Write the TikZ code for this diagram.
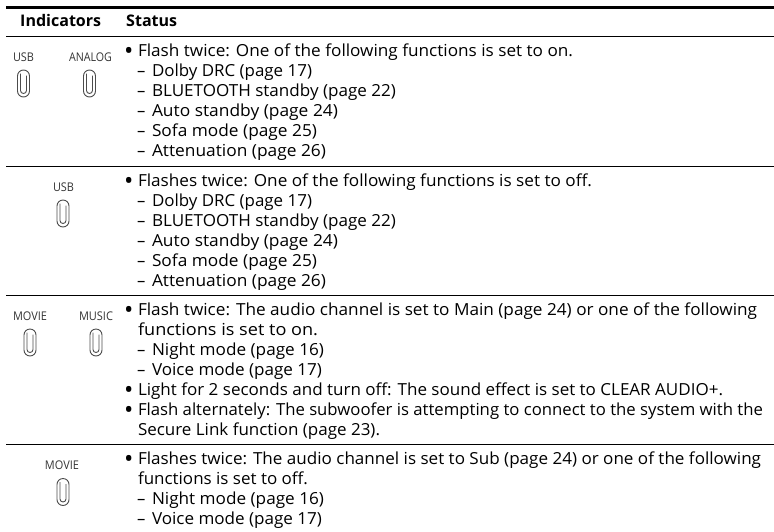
\documentclass[tikz,border=0pt]{standalone}
\usepackage{fontspec}
\setmainfont{Open Sans}
\newsavebox\fitbox
\newcommand\fitw[2]{\sbox\fitbox{#2}\pgfmathsetmacro\fitr{#1/\the\wd\fitbox}\scalebox{\fitr}[1]{\usebox\fitbox}}
\tikzset{
  x=1pt,y=-1pt,
  body/.style={anchor=base west,inner sep=0pt,outer sep=0pt,font=\fontsize{16.6}{20}\selectfont,text=black},
  head/.style={anchor=base west,inner sep=0pt,font=\fontsize{16}{20}\selectfont\bfseries},
  ind/.style={anchor=base,inner sep=0pt,font=\fontsize{12}{14}\selectfont,text=black!80},
  rulerow/.style={line width=0.9pt},
  pics/clip/.style={code={
    \draw[black!70,line width=0.9pt] (-6,-7.5) arc[start angle=180,end angle=360,radius=6] -- (6,7.5) arc[start angle=0,end angle=180,radius=6] -- cycle;
    \draw[black!70,line width=0.9pt] (-3,-10) -- (-3,7) arc[start angle=180,end angle=0,radius=3] -- (3,-8);
  }}
}
\newcommand\blt[4]{\node[body] (#1) at (124,#2) {\makebox[14pt][l]{\smash{\raisebox{-3.4pt}{\scalebox{1.5}{•}}}}\fitw{\numexpr#3-138\relax}{#4}};}
\newcommand\dsh[4]{\node[body] (#1) at (137,#2) {\makebox[15pt][l]{–}\fitw{\numexpr#3-152\relax}{#4}};}
\newcommand\cnt[4]{\node[body] (#1) at (138,#2) {\fitw{\numexpr#3-138\relax}{#4}};}
\begin{document}
\begin{tikzpicture}
\useasboundingbox (0,0) rectangle (774,531);
\draw[line width=2.7pt] (6,7.5) -- (774,7.5);
\draw[rulerow] (6,36) -- (774,36);
\draw[rulerow] (6,166) -- (774,166);
\draw[rulerow] (6,295) -- (774,295);
\draw[rulerow] (6,444) -- (774,444);
\node[head] (hi) at (20,26.5) {\fitw{81}{Indicators}};
\node[head] (hs) at (126,26.5) {\fitw{51}{Status}};
\node[ind] (i1) at (23.5,61.5) {\fitw{21}{USB}};
\node[ind] (i2) at (90.5,61.5) {\fitw{43}{ANALOG}};
\node[ind] (i3) at (63.5,191.5) {\fitw{21}{USB}};
\node[ind] (i4) at (30,320.5) {\fitw{34}{MOVIE}};
\node[ind] (i5) at (96,320.5) {\fitw{34}{MUSIC}};
\node[ind] (i6) at (62,469.5) {\fitw{34}{MOVIE}};
\pic at (23.5,83.5) {clip};
\pic at (89.5,83.5) {clip};
\pic at (63,213.5) {clip};
\pic at (30,342.5) {clip};
\pic at (96,342.5) {clip};
\pic at (63,492) {clip};
\blt{a0}{56}{573}{Flash twice: One of the following functions is set to on.}
\dsh{a1}{76}{312}{Dolby DRC (page 17)}
\dsh{a2}{96}{396}{BLUETOOTH standby (page 22)}
\dsh{a3}{116}{338}{Auto standby (page 24)}
\dsh{a4}{136}{317}{Sofa mode (page 25)}
\dsh{a5}{156}{326}{Attenuation (page 26)}
\blt{b0}{186}{592}{Flashes twice: One of the following functions is set to off.}
\dsh{b1}{206}{312}{Dolby DRC (page 17)}
\dsh{b2}{226}{396}{BLUETOOTH standby (page 22)}
\dsh{b3}{246}{338}{Auto standby (page 24)}
\dsh{b4}{266}{317}{Sofa mode (page 25)}
\dsh{b5}{286}{326}{Attenuation (page 26)}
\blt{c0}{315}{757}{Flash twice: The audio channel is set to Main (page 24) or one of the following}
\cnt{c1}{335}{318}{functions is set to on.}
\dsh{c2}{355}{324}{Night mode (page 16)}
\dsh{c3}{375}{322}{Voice mode (page 17)}
\blt{c4}{395}{723}{Light for 2 seconds and turn off: The sound effect is set to CLEAR AUDIO+.}
\blt{c5}{415}{763}{Flash alternately: The subwoofer is attempting to connect to the system with the}
\cnt{c6}{435}{380}{Secure Link function (page 23).}
\blt{d0}{464}{761}{Flashes twice: The audio channel is set to Sub (page 24) or one of the following}
\cnt{d1}{484}{308}{functions is set to off.}
\dsh{d2}{504}{324}{Night mode (page 16)}
\dsh{d3}{524}{322}{Voice mode (page 17)}
\end{tikzpicture}
\end{document}
